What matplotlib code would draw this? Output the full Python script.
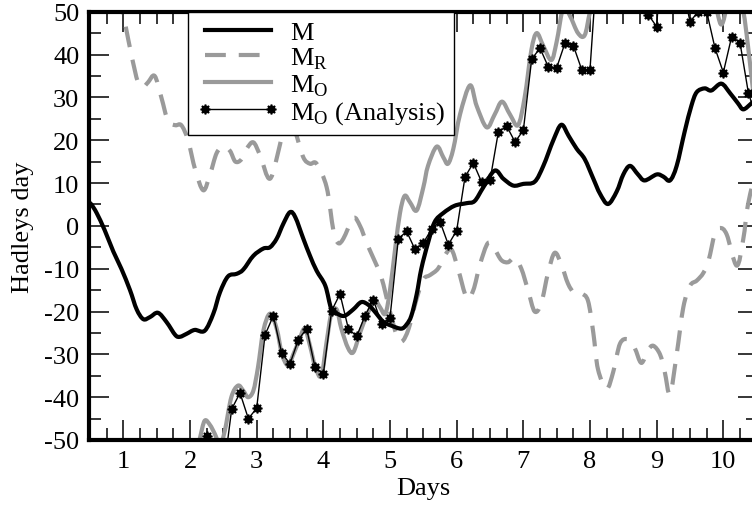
import numpy as np
import matplotlib
matplotlib.use("Agg")
from matplotlib import pyplot as plt
from matplotlib.ticker import MultipleLocator
from matplotlib.path import Path
from matplotlib.patches import PathPatch
from matplotlib.lines import Line2D

plt.rcParams['font.family'] = ['Liberation Serif', 'DejaVu Serif']
plt.rcParams['mathtext.fontset'] = 'custom'
plt.rcParams['mathtext.rm'] = 'Liberation Serif'
plt.rcParams['axes.unicode_minus'] = False

GREY = '#9a9a9a'

# M (black)
m_days = [0.48, 0.52, 0.6, 0.72, 0.85, 0.97, 1.1, 1.2, 1.3, 1.4, 1.52, 1.65, 1.78, 1.85,
          1.95, 2.07, 2.22, 2.35, 2.45, 2.57, 2.7, 2.8, 2.95, 3.1, 3.2, 3.3, 3.4, 3.5,
          3.58, 3.7, 3.8, 3.9, 4.03, 4.12, 4.22, 4.32, 4.45, 4.57, 4.68, 4.77, 4.9, 5.02,
          5.17, 5.25, 5.32, 5.4, 5.47, 5.57, 5.67, 5.8, 5.97, 6.15, 6.27, 6.4, 6.57, 6.7,
          6.85, 7.0, 7.17, 7.3, 7.45, 7.57, 7.68, 7.8, 7.92, 8.05, 8.15, 8.27, 8.4, 8.5,
          8.6, 8.72, 8.82, 9.0, 9.1, 9.2, 9.3, 9.42, 9.52, 9.6, 9.72, 9.82, 9.97, 10.1,
          10.22, 10.3, 10.42, 10.52]
m_vals = [5.5, 5, 3, -1, -6, -10, -15, -19.5, -21.8, -21.3, -20.3, -22.5, -25.5, -25.9,
          -25.2, -24.3, -24.5, -20.5, -15.5, -11.8, -11.2, -10.2, -7, -5.3, -5, -3, 0.5, 3.2,
          2, -3, -7, -10.5, -14, -19.4, -20.6, -21, -19.5, -17.8, -18.5, -20, -22.4, -23.3,
          -24, -23, -21, -16, -10, -4, 0.9, 3, 4.7, 5.3, 5.8, 9, 12.9, 11,
          9.4, 9.8, 10.3, 14, 20, 23.6, 21, 18, 15.6, 11, 7.5, 5.1, 8, 12,
          14, 12, 10.6, 12, 11.5, 10.6, 14, 22, 28, 31.2, 32.1, 31.6, 33.2, 31,
          28.6, 27.2, 28.6, 30]

# M_R (grey dashed)
mr_days = [0.85, 0.95, 1.03, 1.12, 1.22, 1.3, 1.37, 1.47, 1.57, 1.67, 1.78, 1.87, 1.97,
           2.08, 2.2, 2.3, 2.4, 2.5, 2.6, 2.68, 2.77, 2.85, 2.95, 3.05, 3.2, 3.35, 3.47,
           3.58, 3.7, 3.8, 3.9, 4.05, 4.15, 4.22, 4.3, 4.45, 4.55, 4.65, 4.75, 4.87, 5.0,
           5.1, 5.18, 5.28, 5.4, 5.5, 5.6, 5.72, 5.82, 5.92, 6.02, 6.15, 6.25, 6.35, 6.47,
           6.57, 6.67, 6.77, 6.87, 6.97, 7.07, 7.17, 7.27, 7.37, 7.47, 7.57, 7.67, 7.77,
           7.87, 7.97, 8.05, 8.12, 8.25, 8.35, 8.45, 8.57, 8.67, 8.77, 8.87, 8.95, 9.05,
           9.12, 9.2, 9.3, 9.4, 9.5, 9.6, 9.7, 9.78, 9.87, 9.95, 10.05, 10.2, 10.3, 10.37,
           10.52]
mr_vals = [62, 53, 47, 40, 33.5, 32.5, 33.5, 35, 30, 24.5, 23.5, 23.5, 20,
           13, 8.3, 12, 17, 18.5, 17.5, 15, 15.5, 18, 19.5, 16.5, 11, 19, 27,
           22, 16, 14.5, 14.5, 9, -1, -4, -3, 1.8, 0, -4, -7.5, -12, -20,
           -25.5, -27, -24, -17, -12.5, -11.5, -10, -7, -5.5, -10, -16.8, -15, -9, -4,
           -5.5, -8, -8.5, -7.5, -10, -15, -20, -18, -11, -6.3, -9, -13.5, -15.8,
           -15.8, -17.5, -25, -33.5, -38, -34, -27.5, -26.5, -28.5, -32, -29, -28, -30,
           -34, -39.3, -30, -19, -14, -12.8, -11, -8, -2, -0.5, -2, -9.3, -3, 5,
           15]

# M_O (grey solid)
mo_days = [2.1, 2.15, 2.22, 2.3, 2.37, 2.45, 2.52, 2.62, 2.72, 2.8, 2.87, 2.95, 3.02,
           3.1, 3.2, 3.3, 3.38, 3.47, 3.55, 3.63, 3.72, 3.8, 3.88, 3.97, 4.05, 4.12, 4.2,
           4.27, 4.37, 4.45, 4.55, 4.65, 4.77, 4.85, 4.93, 5.0, 5.08, 5.15, 5.22, 5.3, 5.4,
           5.5, 5.57, 5.7, 5.8, 5.87, 5.95, 6.05, 6.2, 6.3, 6.45, 6.57, 6.68, 6.8, 6.92,
           7.02, 7.12, 7.2, 7.3, 7.42, 7.5, 7.6, 7.7, 7.82, 7.92, 8.0, 8.1, 8.5, 9.0,
           9.5, 9.85, 9.97, 10.07, 10.2, 10.3, 10.37, 10.45, 10.52]
mo_vals = [-53, -49.5, -45.5, -46.5, -48.5, -51, -48, -40, -37.3, -38.5, -40, -38.5, -33,
           -24.5, -20.5, -24, -30, -32.6, -30, -27, -24, -28, -33, -35, -27, -20.5, -19.5,
           -24, -28.5, -29.5, -25, -21, -17.5, -19, -20.5, -15, -5, 3, 7, 5.5, 3.6,
           9, 14, 18.5, 16, 14.5, 18, 26, 32.8, 28, 23, 26, 29, 26, 23.5,
           30, 41, 45, 42, 38.7, 43, 51, 49, 45, 44.5, 50, 56, 60, 60,
           58, 52, 47, 52, 55, 50, 42, 31, 22]

# M_O (Analysis), every 3 hours
an_days = [2.125, 2.25, 2.375, 2.5, 2.625, 2.75, 2.875, 3.0, 3.125, 3.25, 3.375, 3.5,
           3.625, 3.75, 3.875, 4.0, 4.125, 4.25, 4.375, 4.5, 4.625, 4.75, 4.875, 5.0,
           5.125, 5.25, 5.375, 5.5, 5.625, 5.75, 5.875, 6.0, 6.125, 6.25, 6.375, 6.5,
           6.625, 6.75, 6.875, 7.0, 7.125, 7.25, 7.375, 7.5, 7.625, 7.75, 7.875, 8.0,
           8.125, 8.25, 8.375, 8.5, 8.625, 8.75, 8.875, 9.0, 9.125, 9.25, 9.375, 9.5,
           9.625, 9.75, 9.875, 10.0, 10.125, 10.25, 10.375, 10.5]
an_vals = [-60, -49, -56, -58, -42.8, -39, -45, -42.6, -25.5, -21, -29.7, -32.2,
           -26.6, -24, -33, -34.6, -19.8, -15.9, -24, -25.8, -21, -17.2, -23, -21.4,
           -3, -1.3, -5.5, -4, -0.7, 1, -4.4, -1.1, 11.4, 14.7, 10.2, 10.6,
           21.9, 23.3, 19.6, 22.3, 38.9, 41.5, 37.1, 36.9, 42.7, 42.1, 36.5, 36.5,
           65, 62, 60, 58, 56, 51, 49.3, 46.5, 75, 65, 57, 47.7,
           50, 50, 41.5, 35.8, 44.2, 42.8, 31.1, 25]


def smooth_path(x, y):
    # draw the read points as a smooth Bezier curve (Catmull-Rom tangents)
    p = np.column_stack([x, y]).astype(float)
    p = np.vstack([p[0], p, p[-1]])
    verts = [p[1]]
    codes = [Path.MOVETO]
    for i in range(1, len(p) - 2):
        c1 = p[i] + (p[i + 1] - p[i - 1]) / 6
        c2 = p[i + 1] - (p[i + 2] - p[i]) / 6
        verts += [c1, c2, p[i + 1]]
        codes += [Path.CURVE4] * 3
    return Path(verts, codes)


fig = plt.figure(figsize=(7.52, 5.06), dpi=100)
ax = fig.add_axes([89 / 752, 1 - 441 / 506, 669 / 752, 428.3 / 506])

ax.add_patch(PathPatch(smooth_path(mr_days, mr_vals), fill=False, edgecolor=GREY, lw=3,
                       linestyle=(0, (5, 3.1)), capstyle='butt', joinstyle='round', zorder=2))
ax.add_patch(PathPatch(smooth_path(mo_days, mo_vals), fill=False, edgecolor=GREY, lw=3,
                       joinstyle='round', zorder=2))
ax.add_patch(PathPatch(smooth_path(m_days, m_vals), fill=False, edgecolor='black', lw=3,
                       joinstyle='round', zorder=3))
ax.plot(an_days, an_vals, color='black', lw=1, marker=(8, 1, 0), ms=7, mew=1.2, zorder=4)

ax.set_xlim(0.485, 10.52)
ax.set_ylim(-50, 50)
ax.xaxis.set_major_locator(MultipleLocator(1))
ax.xaxis.set_minor_locator(MultipleLocator(0.25))
ax.yaxis.set_major_locator(MultipleLocator(10))
ax.yaxis.set_minor_locator(MultipleLocator(5))
ax.tick_params(which='both', direction='in', top=True, right=True, width=1.1, labelsize=19)
ax.tick_params(which='major', length=14.4, pad=7)
ax.tick_params(which='minor', length=8.6)
for s in ax.spines.values():
    s.set_linewidth(3)

ax.set_xlabel('Days', fontsize=19, labelpad=4)
ax.set_ylabel('Hadleys day', fontsize=19, labelpad=7)

handles = [
    Line2D([], [], color='black', lw=3),
    Line2D([], [], color=GREY, lw=3, dashes=(5, 3.1)),
    Line2D([], [], color=GREY, lw=3),
    Line2D([], [], color='black', lw=1, marker=(8, 1, 0), ms=7, mew=1.2),
]
labels = ['M', r'M$_\mathregular{R}$', r'M$_\mathregular{O}$', r'M$_\mathregular{O}$ (Analysis)']
leg = ax.legend(handles, labels, loc='upper left',
                bbox_to_anchor=((188 - 89) / 669, 1.0), borderaxespad=0, fontsize=19,
                frameon=True, fancybox=False, framealpha=1, edgecolor='black',
                borderpad=0.34, labelspacing=0.05, handlelength=3.1, handletextpad=0.42,
                numpoints=2)
leg.get_frame().set_linewidth(1)
leg.set_zorder(5)

fig.savefig('out.png', dpi=100)
